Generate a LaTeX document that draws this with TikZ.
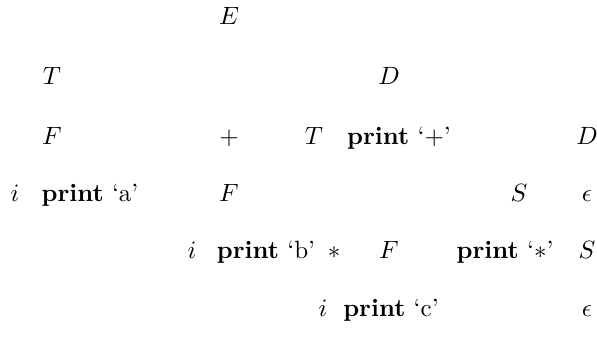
\documentclass[tikz,border=0pt]{standalone}
\begin{document}
\begin{tikzpicture}[x=0.4pt,y=-0.4pt,
  lab/.style={anchor=base,inner sep=0pt,font=\fontsize{10}{12}\selectfont}]
\useasboundingbox (0,0) rectangle (597,352);
\node[lab] (E) at (229,25) {$E$};
\node[lab] (T1) at (52,85) {$T$};
\node[lab] (D1) at (389,85) {$D$};
\node[lab] (F1) at (52,144) {$F$};
\node[lab] (plus) at (229,144) {$+$};
\node[lab] (T2) at (314,144) {$T$};
\node[lab] (pplus) at (399,144) {\textbf{print} `$+$'};
\node[lab] (D2) at (587,144) {$D$};
\node[lab] (i1) at (15,201) {$i$};
\node[lab] (pa) at (90,201) {\textbf{print} `a'};
\node[lab] (F2) at (229,201) {$F$};
\node[lab] (S1) at (519,201) {$S$};
\node[lab] (e1) at (587,201) {$\epsilon$};
\node[lab] (i2) at (192,258) {$i$};
\node[lab] (pb) at (266,258) {\textbf{print} `b'};
\node[lab] (star) at (334,258) {$*$};
\node[lab] (F3) at (389,258) {$F$};
\node[lab] (pstar) at (505,258) {\textbf{print} `$*$'};
\node[lab] (S2) at (587,258) {$S$};
\node[lab] (i3) at (323,316) {$i$};
\node[lab] (pc) at (391,316) {\textbf{print} `c'};
\node[lab] (e2) at (587,316) {$\epsilon$};
\end{tikzpicture}
\end{document}
